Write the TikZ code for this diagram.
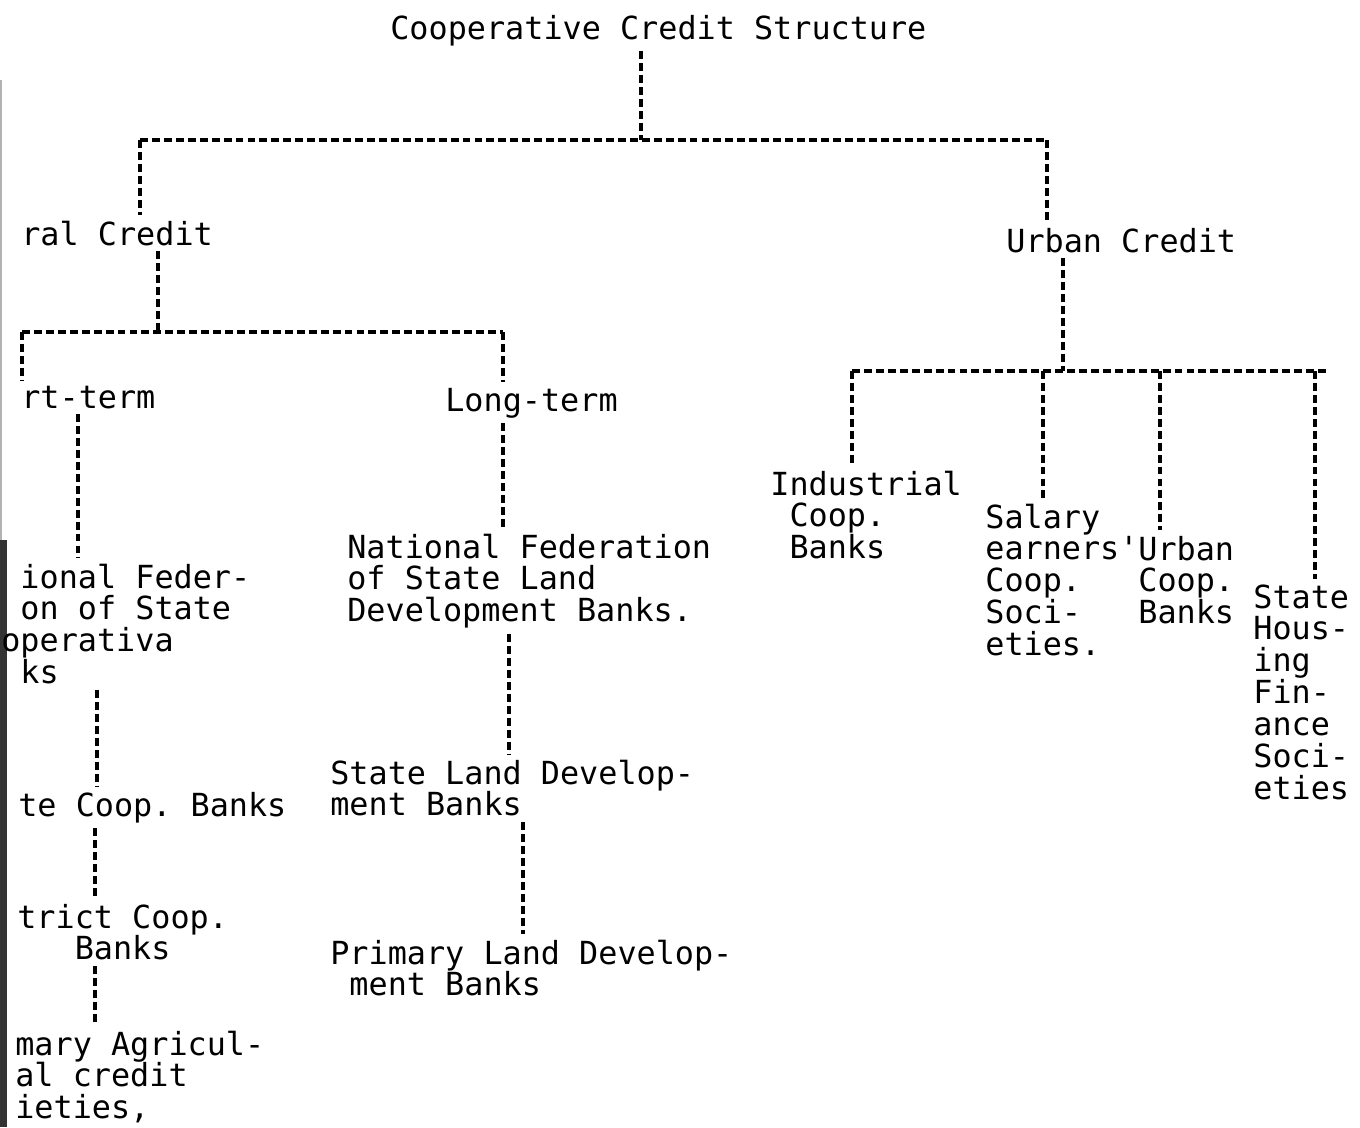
\documentclass[tikz,border=0pt]{standalone}
\usepackage{fontspec}
\newfontfamily\tw{DejaVu Sans Mono}
\begin{document}
\begin{tikzpicture}[x=0.02cm,y=-0.02cm,
  lbl/.style={font={\tw\fontsize{18.1}{18.2}\selectfont\frenchspacing\lineskiplimit=-6pt}, inner xsep=0pt, inner ysep=3pt, anchor=base west},
  mlbl/.style={lbl, text width=12cm, align=left,
    execute at begin node={\spaceskip=\fontdimen2\font\xspaceskip=\fontdimen2\font\relax}},
  conn/.style={draw=black, line width=2pt, dash pattern=on 4.5pt off 2.3pt}]
\useasboundingbox (0,0) rectangle (1360,1127);
\fill[white] (0,0) rectangle (1360,1127);
% scanner edge
\fill[black!80] (0,540) rectangle (7,1127);
\fill[black!30] (0,80) rectangle (2,540);

% nodes
\node[lbl] (title) at (390,39) {Cooperative Credit Structure};
\node[lbl] (rural) at (21,245) {ral Credit};
\node[lbl] (urban) at (1006,252) {Urban Credit};
\node[lbl] (short) at (21,408) {rt-term};
\node[lbl] (long) at (445,411) {Long-term};
\node[mlbl] (natfedL) at (1,588) {\phantom{t}ional Feder-\\\phantom{i}on of State\\operativa\\\phantom{n}ks};
\node[mlbl] (natfedLD) at (347,558) {National Federation\\of State Land\\Development Banks.};
\node[lbl] (stateCoop) at (18,816) {te Coop. Banks};
\node[mlbl] (stateLD) at (330,784) {State Land Develop-\\ment Banks};
\node[mlbl] (district) at (17,928) {trict Coop.\\\phantom{xxx}Banks};
\node[mlbl] (primaryLD) at (330,964) {Primary Land Develop-\\\phantom{m}ment Banks};
\node[mlbl] (pacs) at (15,1055) {mary Agricul-\\al credit\\ieties,};
\node[mlbl] (industrial) at (770,495) {Industrial\\\phantom{I}Coop.\\\phantom{I}Banks};
\node[mlbl] (salary) at (985,528) {Salary\\earners'\\Coop.\\Soci-\\eties.};
\node[mlbl] (urbancoop) at (1138,560) {Urban\\Coop.\\Banks};
\node[mlbl] (statehf) at (1253,608) {State\\Hous-\\ing\\Fin-\\ance\\Soci-\\eties};

% junction coordinates
\coordinate (j0) at (641,140);
\coordinate (jL) at (140,140);
\coordinate (jR) at (1047,140);
\coordinate (k0) at (158,332);
\coordinate (kL) at (22,332);
\coordinate (kR) at (503,332);
\coordinate (m0) at (1063,371);
\coordinate (mA) at (852,371);
\coordinate (mB) at (1043,371);
\coordinate (mC) at (1160,371);
\coordinate (mD) at (1315,371);
\coordinate (mE) at (1327,371);
\coordinate (c1) at (78,0);
\coordinate (c2) at (97,0);
\coordinate (c3) at (95,0);
\coordinate (c4) at (509,0);
\coordinate (c5) at (523,0);

% connectors
\draw[conn] (title.south -| j0) -- (j0);
\draw[conn] (jL) -- (jR);
\draw[conn] (jL) -- (jL |- rural.north);
\draw[conn] (jR) -- (jR |- urban.north);
\draw[conn] (rural.south -| k0) -- (k0);
\draw[conn] (kL) -- (kR);
\draw[conn] (kL) -- (kL |- short.north);
\draw[conn] (kR) -- (kR |- long.north);
\draw[conn] (short.south -| c1) -- (natfedL.north -| c1);
\draw[conn] (long.south -| kR) -- (natfedLD.north -| kR);
\draw[conn] (natfedL.south -| c2) -- (stateCoop.north -| c2);
\draw[conn] (natfedLD.south -| c4) -- (stateLD.north -| c4);
\draw[conn] (stateCoop.south -| c3) -- (district.north -| c3);
\draw[conn] (stateLD.south -| c5) -- (primaryLD.north -| c5);
\draw[conn] (district.south -| c3) -- (pacs.north -| c3);
\draw[conn] (urban.south -| m0) -- (m0);
\draw[conn] (mA) -- (mE);
\draw[conn] (mA) -- (mA |- industrial.north);
\draw[conn] (mB) -- (mB |- salary.north);
\draw[conn] (mC) -- (mC |- urbancoop.north);
\draw[conn] (mD) -- (mD |- statehf.north);
\end{tikzpicture}
\end{document}
